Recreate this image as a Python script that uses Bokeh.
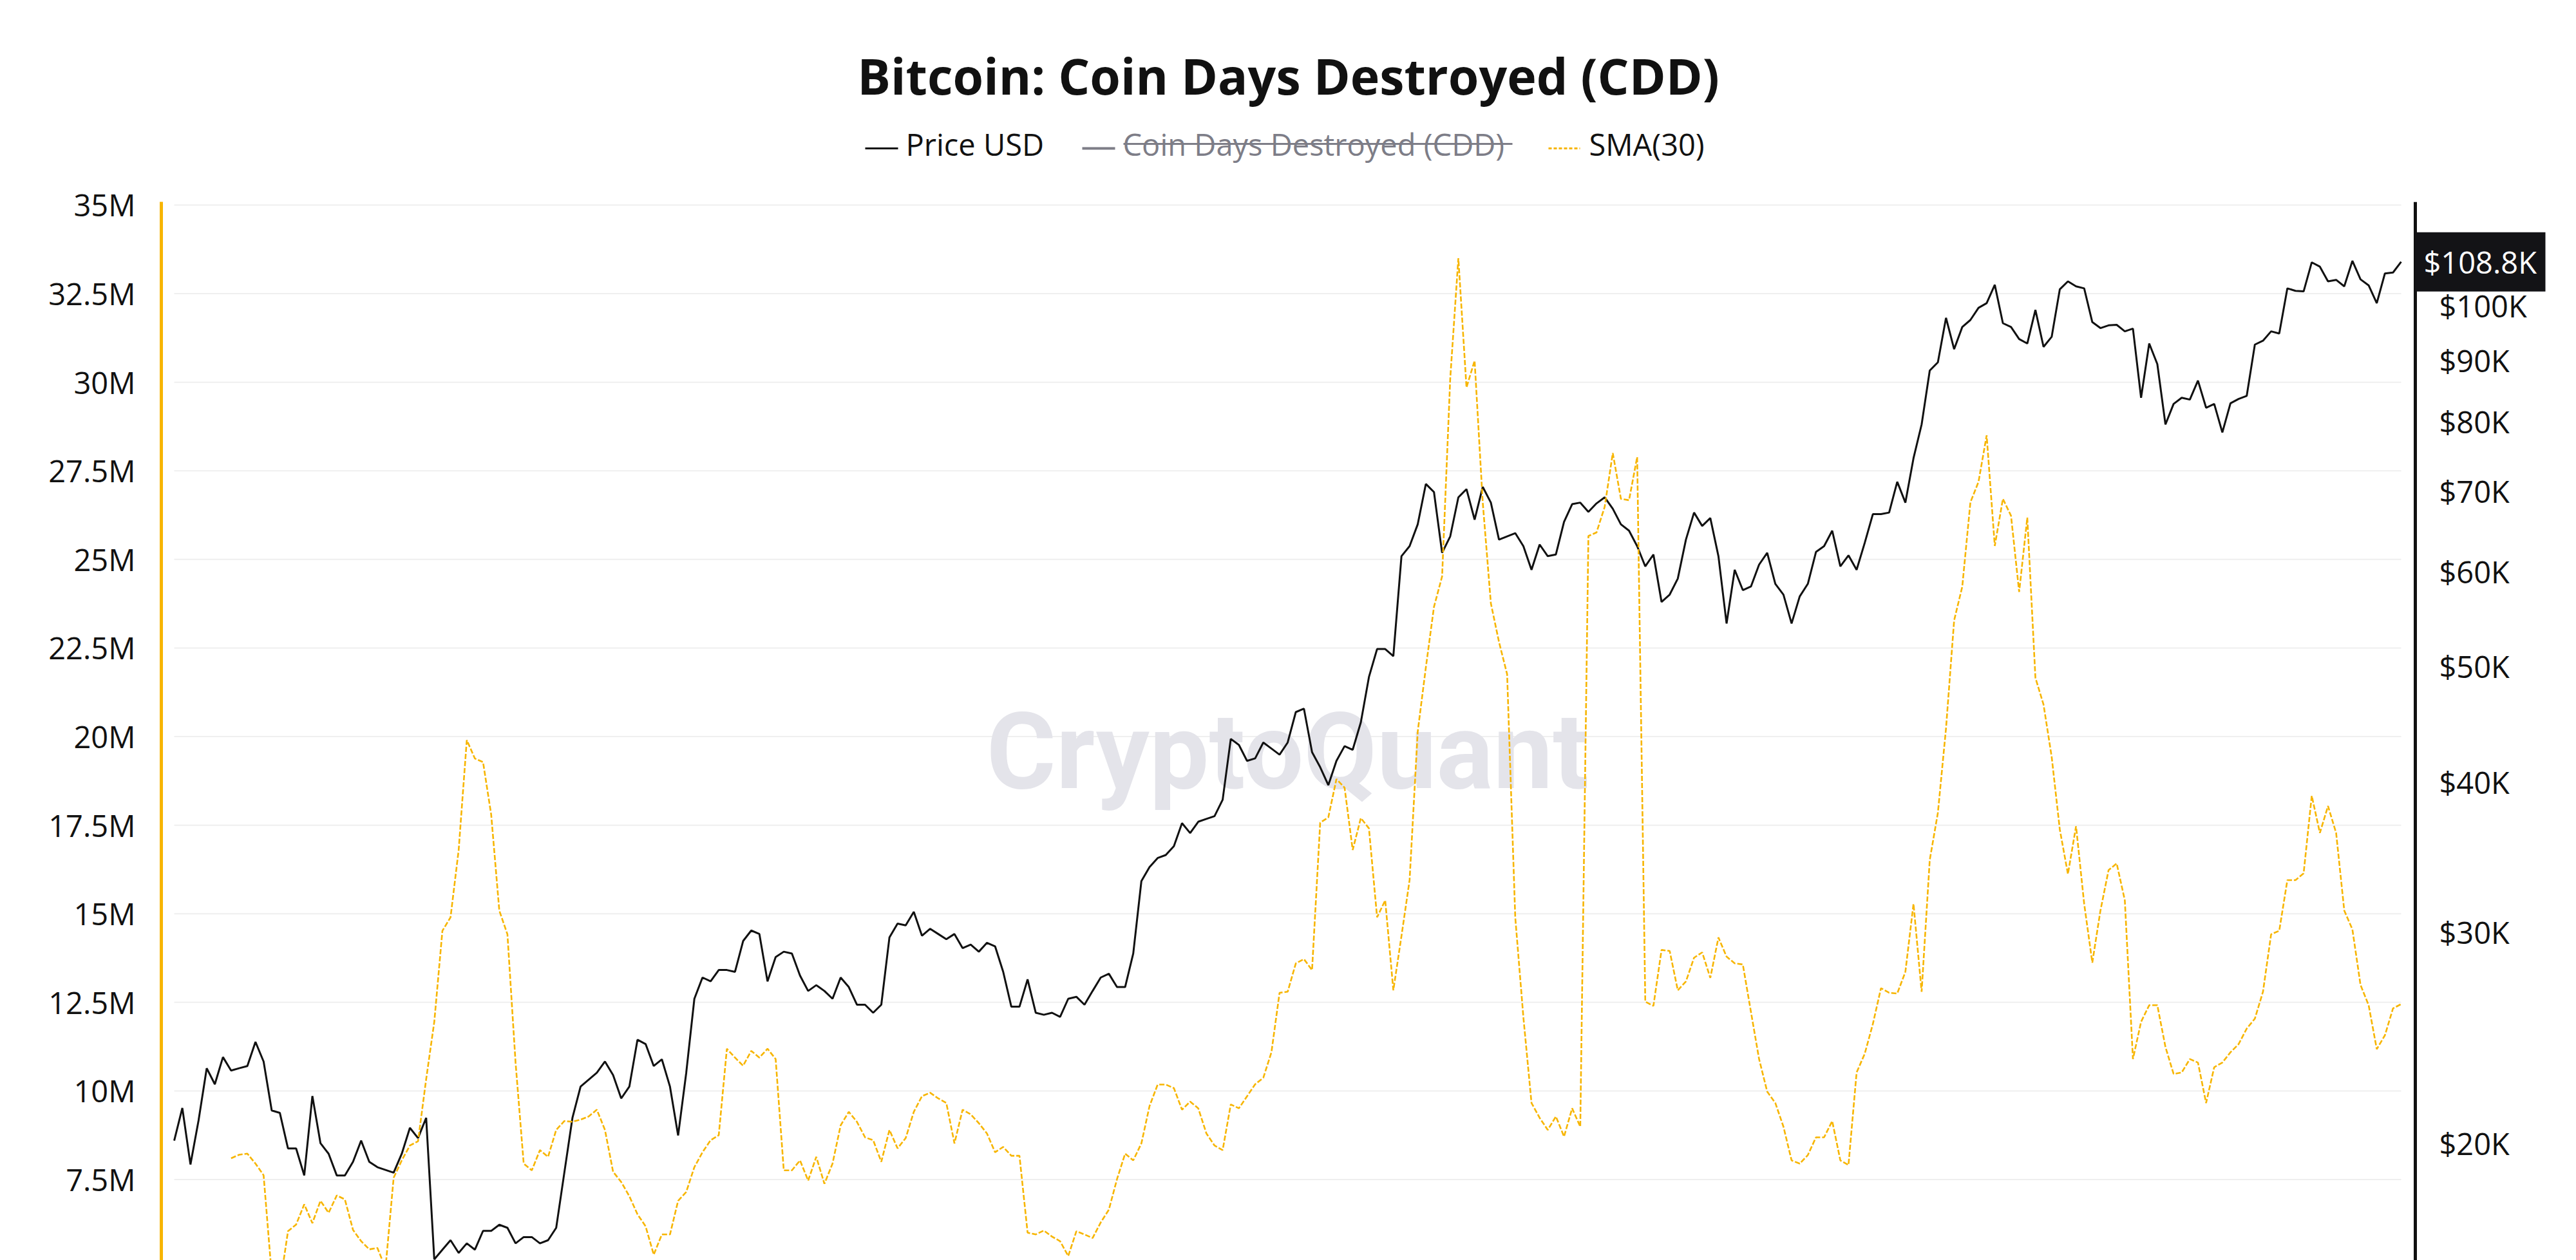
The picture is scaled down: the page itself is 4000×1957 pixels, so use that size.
import pandas as pd
from bokeh.plotting import figure
from bokeh.layouts import column
from bokeh.models import Range1d, LogScale, FixedTicker, CustomJSTickFormatter
from bokeh.core.properties import value
from bokeh.embed import file_html
from bokeh.resources import INLINE

# ---------------------------------------------------------------- data
start_date = "2022-07-05"
step_days = 4

# BTC price, thousands of USD (one value every 4 days)
price_k = [
    20.1, 21.4, 19.2, 20.9, 23.1, 22.4, 23.6, 23.0, 23.1, 23.2,
    24.3, 23.4, 21.3, 21.2, 19.8, 19.8, 18.8, 21.9, 20.0, 19.6,
    18.8, 18.8, 19.3, 20.1, 19.3, 19.1, 19.0, 18.9, 19.6, 20.6,
    20.2, 21.0, 16.0, 16.3, 16.6, 16.2, 16.5, 16.3, 16.9, 16.9,
    17.1, 17.0, 16.5, 16.7, 16.7, 16.5, 16.6, 17.0, 18.9, 21.0,
    22.3, 22.6, 22.9, 23.4, 22.8, 21.8, 22.3, 24.4, 24.2, 23.2,
    23.5, 22.3, 20.3, 22.9, 26.4, 27.5, 27.3, 27.9, 27.9, 27.8,
    29.5, 30.1, 29.9, 27.3, 28.6, 28.9, 28.8, 27.6, 26.8, 27.1,
    26.8, 26.4, 27.5, 27.0, 26.1, 26.1, 25.7, 26.1, 29.7, 30.5,
    30.4, 31.2, 29.8, 30.2, 29.9, 29.6, 29.9, 29.1, 29.3, 28.9,
    29.4, 29.2, 27.8, 26.0, 26.0, 27.4, 25.7, 25.6, 25.7, 25.5,
    26.4, 26.5, 26.1, 26.8, 27.5, 27.7, 27.0, 27.0, 28.8, 33.1,
    34.0, 34.6, 34.8, 35.4, 37.0, 36.3, 37.1, 37.3, 37.5, 38.7,
    43.5, 43.0, 41.7, 41.9, 43.2, 42.7, 42.2, 43.2, 45.8, 46.1,
    42.4, 41.2, 39.8, 41.7, 42.9, 42.6, 44.9, 49.0, 51.7, 51.7,
    51.0, 61.8, 63.0, 65.7, 71.0, 69.9, 62.2, 64.2, 69.2, 70.3,
    66.3, 70.6, 68.5, 63.8, 64.2, 64.6, 63.0, 60.2, 63.2, 61.8,
    62.0, 66.0, 68.3, 68.5, 67.3, 68.4, 69.2, 67.7, 65.7, 64.9,
    63.0, 60.6, 62.0, 56.6, 57.4, 59.2, 63.8, 67.2, 65.5, 66.5,
    61.8, 54.3, 60.2, 57.9, 58.3, 60.8, 62.2, 58.6, 57.4, 54.3,
    57.2, 58.6, 62.3, 63.0, 64.9, 60.6, 61.9, 60.2, 63.4, 67.0,
    67.0, 67.2, 71.3, 68.5, 74.6, 79.6, 88.3, 89.7, 97.7, 92.0,
    96.0, 97.3, 99.6, 100.5, 104.1, 96.7, 96.0, 93.8, 93.0, 99.2,
    92.4, 94.2, 103.2, 104.8, 103.8, 103.4, 96.9, 95.8, 96.3, 96.4,
    95.2, 95.7, 83.8, 93.0, 89.4, 79.6, 82.8, 83.8, 83.5, 86.6,
    82.2, 82.8, 78.4, 82.9, 83.6, 84.1, 92.8, 93.5, 95.2, 94.8,
    103.4, 102.9, 102.8, 108.7, 107.8, 104.8, 105.1, 103.8, 109.0, 105.2,
    104.0, 100.5, 106.4, 106.6, 108.8,
]

# 30-day simple moving average of Coin Days Destroyed, millions
sma_m = [
    None, None, None, None, None, None, None, 8.10, 8.20, 8.23,
    7.95, 7.62, 4.80, 4.50, 6.04, 6.23, 6.80, 6.27, 6.90, 6.56,
    7.05, 6.94, 6.08, 5.76, 5.53, 5.57, 5.00, 7.55, 8.04, 8.46,
    8.58, 10.33, 11.95, 14.52, 14.90, 16.80, 19.90, 19.38, 19.28, 17.80,
    15.09, 14.42, 10.80, 7.95, 7.76, 8.33, 8.14, 8.90, 9.15, 9.13,
    9.19, 9.28, 9.47, 8.90, 7.72, 7.43, 7.03, 6.52, 6.18, 5.38,
    5.95, 5.95, 6.90, 7.15, 7.85, 8.27, 8.61, 8.75, 11.19, 10.94,
    10.71, 11.13, 10.94, 11.19, 10.90, 7.76, 7.76, 8.04, 7.47, 8.14,
    7.38, 7.95, 9.03, 9.41, 9.13, 8.69, 8.61, 8.00, 8.90, 8.38,
    8.67, 9.41, 9.85, 9.95, 9.79, 9.66, 8.52, 9.47, 9.34, 9.09,
    8.80, 8.27, 8.42, 8.17, 8.17, 6.00, 5.95, 6.06, 5.89, 5.76,
    5.34, 6.04, 5.95, 5.85, 6.29, 6.65, 7.51, 8.23, 8.04, 8.52,
    9.57, 10.18, 10.18, 10.08, 9.47, 9.70, 9.51, 8.80, 8.46, 8.33,
    9.62, 9.51, 9.85, 10.19, 10.37, 11.09, 12.77, 12.80, 13.60, 13.72,
    13.41, 17.57, 17.72, 18.80, 18.56, 16.80, 17.70, 17.41, 14.90, 15.38,
    12.84, 14.37, 15.95, 20.14, 21.95, 23.66, 24.52, 30.10, 33.50, 29.85,
    30.61, 26.61, 23.76, 22.67, 21.76, 14.90, 12.08, 9.66, 9.24, 8.90,
    9.28, 8.71, 9.51, 8.99, 25.66, 25.76, 26.48, 28.00, 26.71, 26.67,
    27.89, 12.52, 12.40, 13.98, 13.95, 12.84, 13.09, 13.76, 13.91, 13.19,
    14.33, 13.79, 13.60, 13.57, 12.23, 10.90, 9.98, 9.66, 8.99, 8.04,
    7.95, 8.19, 8.69, 8.69, 9.15, 8.04, 7.91, 10.52, 11.05, 11.89,
    12.90, 12.77, 12.75, 13.36, 15.28, 12.80, 16.52, 17.85, 20.23, 23.28,
    24.23, 26.61, 27.19, 28.50, 25.38, 26.71, 26.23, 24.08, 26.18, 21.66,
    20.90, 19.43, 17.38, 16.12, 17.47, 15.28, 13.62, 15.09, 16.23, 16.42,
    15.38, 10.90, 11.95, 12.42, 12.42, 11.24, 10.48, 10.52, 10.90, 10.80,
    9.66, 10.67, 10.80, 11.09, 11.32, 11.76, 12.04, 12.80, 14.42, 14.52,
    15.95, 15.95, 16.14, 18.33, 17.28, 18.04, 17.28, 15.09, 14.56, 12.99,
    12.42, 11.18, 11.57, 12.33, 12.45,
]

left_ticks_m = [5, 7.5, 10, 12.5, 15, 17.5, 20, 22.5, 25, 27.5, 30, 32.5, 35]
right_ticks_k = [20, 30, 40, 50, 60, 70, 80, 90, 100]

title_text = "Bitcoin: Coin Days Destroyed (CDD)"
legend_labels = ["Price USD", "Coin Days Destroyed (CDD)", "SMA(30)"]
watermark = "CryptoQuant"

# ---------------------------------------------------------------- layout constants (canvas px)
W = 4000
LEFT = 250               # frame starts at the CDD axis line
H_HEAD = 285
H_MAIN = 1672
DATA_X0, DATA_X1 = 270, 3728   # where the series begin / end
PRICE_AXIS_X = 3750
FONT = "Open Sans"
INK = "#111111"
GOLD = "#F7B500"
MUTED = "#7d7d87"

dates = pd.date_range(start_date, periods=len(price_k), freq=f"{step_days}D")
price = [v * 1000 for v in price_k]
sma = [float("nan") if v is None else v * 1e6 for v in sma_m]

span_days = (dates[-1] - dates[0]).days
px_per_day = (DATA_X1 - DATA_X0) / span_days


def at_px(px):
    """Datetime that lands on canvas column px."""
    return dates[0] + pd.Timedelta(days=(px - DATA_X0) / px_per_day)


# ---------------------------------------------------------------- header (title + legend)
head = figure(width=W, height=H_HEAD, title=None,
              x_range=Range1d(LEFT, W), y_range=Range1d(H_HEAD, 0),
              output_backend="svg", toolbar_location=None,
              min_border_left=LEFT, min_border_right=0,
              min_border_top=0, min_border_bottom=0,
              x_axis_location=None, y_axis_location=None)
head.grid.visible = False
head.outline_line_color = None

head.text(x=[W / 2], y=[117], text=[title_text], text_font=value(FONT),
          text_font_style="bold", text_font_size="77px", text_color=INK,
          text_align="center", text_baseline="alphabetic")

# legend swatches
head.segment(x0=[1343], x1=[1394], y0=[230], y1=[230], line_color=INK, line_width=3)
head.segment(x0=[1680], x1=[1731], y0=[230], y1=[230], line_color=MUTED, line_width=4)
head.segment(x0=[2404], x1=[2453], y0=[230], y1=[230], line_color=GOLD, line_width=3,
             line_dash="5 3")
legend_x = [1406, 1743, 2467]
legend_colors = [INK, MUTED, INK]
head.text(x=legend_x, y=[223] * 3, text=legend_labels, text_font=value(FONT),
          text_font_size="47px", text_color=legend_colors, text_baseline="alphabetic")
# hidden series: struck-through label
head.segment(x0=[1744], x1=[2348], y0=[223], y1=[223], line_color=MUTED, line_width=3)

# ---------------------------------------------------------------- main chart
y_lo, y_hi = 5.22e6, 35.09e6
p_lo, p_hi = 15.97e3, 122.1e3

main = figure(width=W, height=H_MAIN, title=None, x_axis_type="datetime",
              x_axis_location=None, y_axis_location="left",
              x_range=Range1d(at_px(LEFT), at_px(W)),
              y_range=Range1d(y_lo, y_hi),
              output_backend="svg", toolbar_location=None,
              min_border_left=LEFT, min_border_right=0,
              min_border_top=28, min_border_bottom=0)
main.grid.visible = False
main.outline_line_color = None
main.extra_y_ranges = {"price": Range1d(p_lo, p_hi)}
main.extra_y_scales = {"price": LogScale()}

# horizontal grid spanning the data extent
gy = [t * 1e6 for t in left_ticks_m]
main.segment(x0=[dates[0]] * len(gy), x1=[dates[-1]] * len(gy), y0=gy, y1=gy,
             line_color="#EFEFEF", line_width=2)

# watermark
mid = dates[0] + (dates[-1] - dates[0]) / 2
wy = y_lo + 0.4805 * (y_hi - y_lo)
main.text(x=[mid], y=[wy], text=[watermark], text_font=value("Roboto"),
          text_font_style="bold", text_font_size="165px", text_color="#E4E4EA",
          text_align="center", text_baseline="alphabetic")

main.line(dates, price, y_range_name="price", line_color=INK, line_width=3)
main.line(dates, sma, line_color=GOLD, line_width=2.6, line_dash="8 3")

# left axis (CDD)
ax = main.yaxis[0]
ax.ticker = FixedTicker(ticks=gy)
ax.formatter = CustomJSTickFormatter(code="""
    const v = tick / 1e6;
    return (Math.abs(v - Math.round(v)) < 1e-9 ? v.toFixed(0) : v.toFixed(1)) + 'M';
""")
ax.axis_line_color = GOLD
ax.axis_line_width = 5
ax.major_tick_line_color = None
ax.minor_tick_line_color = None
ax.major_tick_out = 0
ax.major_tick_in = 0
ax.major_label_text_font = FONT
ax.major_label_text_font_size = "47px"
ax.major_label_text_color = INK
ax.major_label_standoff = 40

# right price scale (log), drawn on the price range
rx = at_px(PRICE_AXIS_X)
main.segment(x0=[rx], x1=[rx], y0=[p_lo], y1=[p_hi], y_range_name="price",
             line_color=INK, line_width=5)
price_ticks = [t * 1000 for t in right_ticks_k]
main.text(x=[at_px(3787)] * len(price_ticks), y=price_ticks, y_range_name="price",
          text=[f"${t}K" for t in right_ticks_k], text_font=value(FONT),
          text_font_size="47px", text_color=INK, text_align="left",
          text_baseline="middle")

# last-price badge
main.rect(x=[at_px(3851)], y=[price[-1]], width=202, height=92,
          width_units="screen", height_units="screen", y_range_name="price",
          fill_color="#131316", line_color=None)
main.text(x=[at_px(3763)], y=[price[-1]], y_range_name="price",
          text=[f"${price[-1] / 1000:.1f}K"], text_font=value(FONT),
          text_font_size="47px", text_color="white", text_align="left",
          text_baseline="middle")

layout = column(head, main, spacing=0)
open("out.html", "w").write(file_html(layout, INLINE, title=title_text))
